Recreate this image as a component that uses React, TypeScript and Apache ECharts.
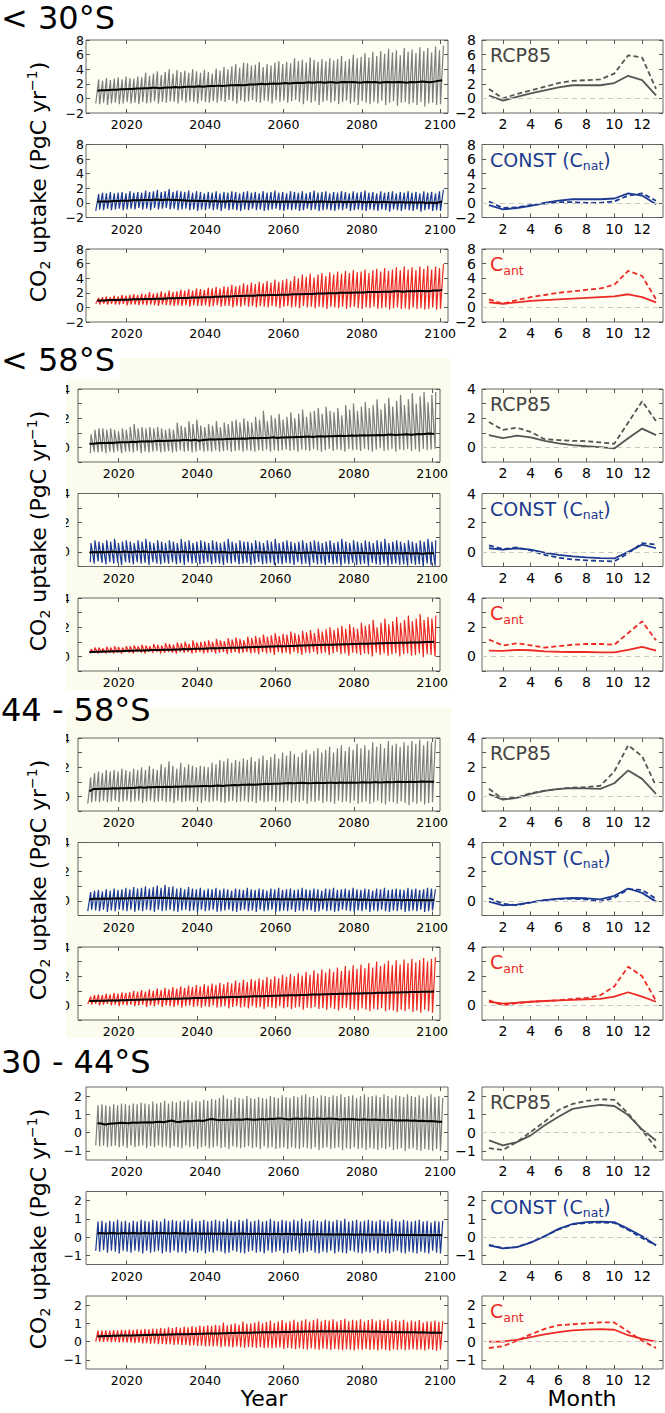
import React, { useEffect, useRef } from "react";
import * as echarts from "echarts";

// ---------------- data ----------------
const FIRST_YEAR = 2012; // annual values below run 2012 ... 2100
const MONTHS = [1, 2, 3, 4, 5, 6, 7, 8, 9, 10, 11, 12, 13];
const YEAR_LABELS = [2020, 2040, 2060, 2080, 2100];
const MONTH_LABELS = [2, 4, 6, 8, 10, 12];
const REGION_TITLES = ["< 30°S", "< 58°S", "44 - 58°S", "30 - 44°S"];

// ---- < 30°S ----
const S30_RCP_HI = [
  2.6,2.4,2.8,2.5,2.7,2.9,2.6,3.0,2.8,2.7,
  3.0,2.9,3.5,3.1,3.4,3.7,3.2,3.6,4.0,3.4,
  3.9,3.6,3.8,3.5,4.0,3.7,3.5,3.9,3.6,3.4,
  4.1,3.8,4.3,4.0,4.4,4.7,4.2,4.9,4.8,4.5,
  4.6,5.0,4.3,4.7,4.5,4.9,5.1,4.7,5.0,4.8,
  5.5,5.1,5.3,4.9,5.6,5.3,5.0,5.4,5.1,5.5,
  5.2,5.4,5.8,5.1,5.4,6.0,5.5,5.7,6.2,5.6,
  6.4,5.8,6.5,6.1,6.8,6.3,6.6,5.9,6.9,6.4,
  6.7,6.2,7.0,6.5,6.9,6.3,7.1,6.6,7.2];
const S30_RCP_LO = [
  -0.7,-0.8,-0.6,-0.9,-0.7,-0.6,-0.8,-0.7,-0.5,-0.7,
  -0.6,-0.8,-0.5,-0.7,-0.6,-0.4,-0.7,-0.5,-0.6,-0.4,
  -0.5,-0.7,-0.3,-0.6,-0.4,-0.5,-0.7,-0.3,-0.5,-0.6,
  -0.4,-0.6,-0.3,-0.5,-0.2,-0.4,-0.7,-0.3,-0.5,-0.4,
  -0.2,-0.5,-0.6,-0.3,-0.4,-0.7,-0.2,-0.5,-0.3,-0.6,
  -0.4,-0.2,-0.5,-0.8,-0.3,-0.6,-0.4,-0.9,-0.5,-0.3,
  -0.6,-0.4,-0.8,-0.5,-0.3,-0.7,-0.5,-0.9,-0.4,-0.6,
  -0.8,-0.5,-0.7,-0.3,-0.9,-0.6,-0.4,-1.0,-0.6,-0.5,
  -0.8,-0.6,-0.9,-0.5,-1.1,-0.7,-0.6,-0.9,-0.8];
const S30_RCP_MEAN = [
  1.05,1.1,1.1,1.15,1.2,1.2,1.25,1.25,1.3,1.3,
  1.35,1.35,1.4,1.4,1.45,1.45,1.4,1.45,1.5,1.5,
  1.55,1.5,1.55,1.6,1.6,1.6,1.65,1.6,1.65,1.7,
  1.7,1.75,1.7,1.75,1.8,1.8,1.85,1.8,1.85,1.9,
  1.9,1.95,2.0,1.95,2.0,2.05,2.0,2.05,2.1,2.05,
  2.1,2.15,2.1,2.15,2.2,2.15,2.2,2.2,2.15,2.2,
  2.2,2.15,2.2,2.25,2.2,2.25,2.2,2.15,2.2,2.25,
  2.2,2.25,2.15,2.2,2.25,2.2,2.2,2.25,2.2,2.15,
  2.25,2.2,2.25,2.3,2.25,2.2,2.3,2.4,2.5];
const S30_CONST_HI = [
  1.2,1.4,1.3,1.5,1.3,1.4,1.5,1.3,1.6,1.4,
  1.5,1.4,1.7,1.5,1.6,1.8,1.5,1.6,1.9,1.5,
  1.7,1.6,1.5,1.7,1.4,1.6,1.5,1.3,1.5,1.4,
  1.6,1.3,1.5,1.4,1.6,1.5,1.3,1.5,1.6,1.4,
  1.5,1.3,1.6,1.4,1.5,1.7,1.4,1.5,1.3,1.6,
  1.5,1.4,1.6,1.3,1.5,1.7,1.4,1.5,1.6,1.3,
  1.5,1.4,1.6,1.5,1.3,1.6,1.4,1.5,1.7,1.4,
  1.5,1.3,1.6,1.4,1.5,1.6,1.3,1.5,1.4,1.6,
  1.4,1.5,1.3,1.6,1.4,1.5,1.3,1.6,1.8];
const S30_CONST_LO = [
  -1.1,-0.9,-1.0,-0.8,-1.0,-0.9,-0.8,-1.0,-0.9,-0.8,
  -0.9,-0.7,-0.9,-0.8,-1.0,-0.7,-0.9,-0.8,-0.7,-0.9,
  -0.8,-1.0,-0.9,-0.8,-1.0,-0.9,-1.1,-0.9,-1.0,-0.8,
  -1.0,-0.9,-1.1,-0.8,-1.0,-0.9,-1.0,-1.1,-0.9,-1.0,
  -0.8,-1.0,-0.9,-1.1,-1.0,-0.9,-0.8,-1.0,-1.1,-0.9,
  -1.0,-0.9,-1.1,-1.0,-0.8,-1.0,-0.9,-1.1,-1.0,-0.9,
  -1.0,-1.1,-0.9,-1.0,-0.8,-1.1,-1.0,-0.9,-1.0,-1.1,
  -0.9,-1.0,-1.1,-0.9,-1.0,-1.2,-0.9,-1.0,-1.1,-0.9,
  -1.0,-1.1,-0.9,-1.2,-1.0,-0.9,-1.1,-1.0,-1.1];
const S30_CONST_MEAN = [
  0.15,0.2,0.2,0.2,0.25,0.25,0.3,0.3,0.3,0.35,
  0.35,0.35,0.4,0.4,0.4,0.45,0.4,0.4,0.45,0.4,
  0.4,0.35,0.35,0.3,0.3,0.3,0.25,0.25,0.25,0.2,
  0.25,0.2,0.2,0.2,0.25,0.2,0.15,0.2,0.2,0.15,
  0.2,0.15,0.2,0.2,0.15,0.2,0.15,0.15,0.2,0.15,
  0.15,0.2,0.15,0.15,0.1,0.15,0.15,0.2,0.15,0.15,
  0.1,0.15,0.15,0.1,0.15,0.1,0.15,0.15,0.1,0.1,
  0.15,0.1,0.1,0.15,0.1,0.1,0.05,0.1,0.1,0.05,
  0.1,0.05,0.05,0.1,0.0,0.05,0.0,0.05,0.2];
const S30_CANT_HI = [
  1.3,1.4,1.5,1.4,1.6,1.5,1.7,1.6,1.7,1.8,
  1.7,1.9,1.8,2.1,1.9,2.0,2.2,2.0,2.3,2.1,
  2.2,2.4,2.3,2.5,2.3,2.6,2.5,2.4,2.7,2.6,
  2.8,2.6,2.9,2.8,3.1,2.9,3.0,3.3,3.1,3.4,
  3.2,3.5,3.3,3.6,3.4,3.8,3.5,3.7,3.9,3.6,
  4.3,4.0,4.5,4.2,4.6,4.1,4.5,4.7,4.3,4.8,
  4.5,4.9,4.6,5.0,4.7,5.1,4.8,4.9,5.2,4.7,
  5.1,5.3,4.9,5.4,5.0,5.2,5.5,5.1,5.6,5.2,
  5.5,5.1,5.6,5.3,5.7,5.2,5.6,5.4,5.9];
const S30_CANT_LO = [
  0.5,0.4,0.5,0.4,0.5,0.4,0.4,0.5,0.3,0.4,
  0.4,0.3,0.4,0.3,0.4,0.3,0.2,0.4,0.3,0.3,
  0.2,0.3,0.2,0.3,0.1,0.3,0.2,0.2,0.3,0.1,
  0.2,0.3,0.1,0.2,0.2,0.0,0.2,0.1,0.3,0.1,
  0.2,0.0,0.2,0.1,0.0,0.2,0.1,-0.1,0.1,0.2,
  0.0,0.1,-0.1,0.2,0.0,0.1,-0.1,0.1,0.0,-0.2,
  0.1,0.0,-0.1,0.1,-0.2,0.0,0.1,-0.1,-0.2,0.0,
  -0.1,0.1,-0.2,-0.1,0.0,-0.3,-0.1,0.0,-0.2,-0.1,
  -0.3,0.0,-0.2,-0.1,-0.3,-0.2,0.0,-0.3,-0.2];
const S30_CANT_MEAN = [
  0.9,0.95,0.95,1.0,1.0,1.0,1.05,1.05,1.05,1.1,
  1.1,1.1,1.15,1.15,1.15,1.2,1.2,1.2,1.25,1.25,
  1.25,1.3,1.3,1.3,1.35,1.35,1.35,1.4,1.4,1.4,
  1.45,1.45,1.5,1.5,1.5,1.55,1.55,1.55,1.6,1.6,
  1.6,1.65,1.65,1.65,1.7,1.7,1.7,1.75,1.75,1.75,
  1.8,1.8,1.8,1.85,1.85,1.85,1.9,1.9,1.9,1.95,
  1.95,1.95,2.0,2.0,2.0,2.0,2.05,2.05,2.05,2.1,
  2.1,2.1,2.1,2.15,2.15,2.15,2.2,2.2,2.15,2.2,
  2.2,2.2,2.25,2.25,2.2,2.25,2.3,2.3,2.4];

// ---- < 58°S ----
const S58_RCP_HI = [
  0.9,1.2,1.3,1.3,1.2,1.3,1.2,1.1,1.3,1.2,
  1.4,1.6,1.3,1.4,1.3,1.4,1.3,1.4,1.3,1.2,
  1.3,1.2,1.7,1.5,1.4,1.8,1.6,1.9,1.5,1.4,
  1.6,1.5,1.8,1.4,1.7,1.6,1.8,1.9,1.7,2.0,
  1.8,1.7,2.1,1.9,2.5,1.8,2.2,2.0,2.3,1.9,
  2.1,2.4,2.0,2.3,2.6,2.1,2.4,2.5,2.7,2.3,
  2.8,2.5,2.4,2.7,2.2,2.9,2.6,3.0,2.5,2.8,
  3.1,2.7,2.9,3.3,2.6,3.0,3.4,2.8,3.2,3.6,
  2.9,3.3,3.7,3.0,3.5,3.8,3.1,3.6,3.8];
const S58_RCP_LO = [
  -0.4,-0.3,-0.35,-0.3,-0.4,-0.3,-0.35,-0.25,-0.4,-0.3,
  -0.3,-0.35,-0.25,-0.4,-0.3,-0.35,-0.3,-0.25,-0.35,-0.3,
  -0.25,-0.35,-0.3,-0.2,-0.3,-0.25,-0.35,-0.3,-0.2,-0.3,
  -0.25,-0.3,-0.2,-0.3,-0.25,-0.2,-0.3,-0.25,-0.2,-0.3,
  -0.2,-0.25,-0.3,-0.2,-0.25,-0.15,-0.3,-0.2,-0.25,-0.2,
  -0.15,-0.25,-0.2,-0.3,-0.15,-0.2,-0.25,-0.1,-0.2,-0.3,
  -0.2,-0.1,-0.25,-0.15,-0.2,-0.3,-0.1,-0.2,-0.15,-0.25,
  -0.1,-0.2,-0.3,-0.15,-0.05,-0.25,-0.2,-0.1,-0.3,-0.15,
  -0.2,-0.1,-0.25,-0.15,-0.3,-0.1,-0.2,-0.15,-0.1];
const S58_RCP_MEAN = [
  0.25,0.25,0.28,0.3,0.3,0.32,0.3,0.33,0.35,0.35,
  0.36,0.38,0.37,0.4,0.4,0.42,0.41,0.43,0.45,0.44,
  0.46,0.45,0.48,0.47,0.5,0.5,0.48,0.52,0.45,0.5,
  0.53,0.55,0.54,0.56,0.55,0.58,0.57,0.6,0.59,0.61,
  0.6,0.62,0.64,0.62,0.65,0.64,0.66,0.7,0.65,0.67,
  0.68,0.7,0.69,0.72,0.71,0.73,0.75,0.72,0.74,0.76,
  0.75,0.77,0.76,0.78,0.8,0.78,0.79,0.81,0.8,0.82,
  0.83,0.81,0.84,0.83,0.85,0.84,0.86,0.88,0.85,0.87,
  0.88,0.9,0.87,0.89,0.91,0.9,0.93,0.95,0.92];
const S58_CONST_HI = [
  0.6,0.8,0.7,0.6,0.8,0.7,0.9,0.6,0.7,0.8,
  0.7,0.6,0.8,0.7,0.9,0.7,0.6,0.8,0.7,0.6,
  0.8,0.7,0.6,0.9,0.7,0.8,0.6,0.7,0.8,0.7,
  0.6,0.8,0.7,0.6,0.7,0.9,0.7,0.6,0.8,0.7,
  0.7,0.6,0.8,0.7,0.6,0.8,0.7,0.9,0.6,0.7,
  0.8,0.7,0.6,0.7,0.8,0.6,0.7,0.8,0.7,0.6,
  0.7,0.8,0.6,0.7,0.9,0.7,0.6,0.8,0.7,0.6,
  0.8,0.7,0.6,0.8,0.7,0.9,0.6,0.7,0.8,0.7,
  0.6,0.8,0.7,0.6,0.8,0.7,0.9,0.7,0.8];
const S58_CONST_LO = [
  -0.7,-0.8,-0.65,-0.75,-0.85,-0.7,-0.8,-0.75,-0.9,-0.7,
  -0.75,-0.85,-0.7,-0.8,-0.75,-0.9,-0.7,-0.8,-0.85,-0.75,
  -0.8,-0.7,-0.85,-0.75,-0.9,-0.7,-0.8,-0.75,-0.85,-0.8,
  -0.7,-0.85,-0.75,-0.8,-0.9,-0.75,-0.8,-0.7,-0.85,-0.8,
  -0.75,-0.9,-0.8,-0.7,-0.85,-0.8,-0.75,-0.9,-0.8,-0.85,
  -0.75,-0.8,-0.9,-0.7,-0.85,-0.8,-0.95,-0.75,-0.85,-0.8,
  -0.9,-0.75,-0.85,-0.8,-0.95,-0.8,-0.85,-0.75,-0.9,-0.85,
  -0.8,-0.95,-0.75,-0.85,-0.9,-0.8,-0.95,-0.85,-0.8,-0.9,
  -0.85,-0.95,-0.8,-0.9,-0.85,-1.0,-0.8,-0.9,-0.95];
const S58_CONST_MEAN = [
  -0.05,0.0,-0.02,0.0,-0.03,0.0,0.02,-0.02,0.0,0.02,
  0.0,-0.02,0.02,0.0,0.03,0.0,-0.02,0.0,0.02,-0.03,
  0.0,0.02,-0.02,0.0,0.02,-0.03,0.0,-0.02,0.0,0.02,
  -0.02,0.0,-0.04,-0.02,0.0,-0.03,-0.05,-0.02,0.0,-0.04,
  -0.02,-0.05,-0.03,0.0,-0.04,-0.02,-0.05,-0.03,-0.06,-0.02,
  -0.04,-0.06,-0.03,-0.05,-0.07,-0.04,-0.06,-0.03,-0.05,-0.07,
  -0.05,-0.08,-0.04,-0.06,-0.08,-0.05,-0.07,-0.09,-0.06,-0.08,
  -0.06,-0.09,-0.07,-0.1,-0.07,-0.09,-0.08,-0.1,-0.07,-0.09,
  -0.1,-0.08,-0.11,-0.09,-0.1,-0.12,-0.09,-0.1,-0.1];
const S58_CANT_HI = [
  0.5,0.6,0.6,0.55,0.65,0.6,0.7,0.65,0.6,0.7,
  0.7,0.75,0.7,0.8,0.75,0.7,0.85,0.8,0.75,0.9,
  0.85,0.8,0.95,0.9,1.0,0.85,1.1,0.95,1.0,1.05,
  1.1,1.0,1.2,1.1,1.05,1.25,1.15,1.3,1.2,1.1,
  1.35,1.25,1.4,1.3,1.5,1.35,1.45,1.6,1.4,1.55,
  1.5,1.7,1.6,1.5,1.75,1.65,1.8,1.6,1.9,1.7,
  1.85,2.0,1.8,1.95,2.1,1.9,2.2,2.0,1.9,2.3,
  2.1,2.2,2.5,2.0,2.3,2.6,2.2,2.4,2.7,2.3,
  2.5,2.8,2.4,2.6,2.9,2.5,2.7,2.6,2.8];
const S58_CANT_LO = [
  0.2,0.25,0.2,0.25,0.2,0.25,0.2,0.25,0.2,0.3,
  0.25,0.2,0.3,0.25,0.2,0.3,0.25,0.3,0.2,0.25,
  0.3,0.25,0.2,0.3,0.25,0.3,0.2,0.25,0.3,0.2,
  0.25,0.3,0.2,0.25,0.3,0.15,0.25,0.3,0.2,0.25,
  0.3,0.2,0.25,0.15,0.3,0.2,0.25,0.1,0.3,0.2,
  0.25,0.15,0.3,0.2,0.1,0.25,0.2,0.3,0.15,0.2,
  0.25,0.1,0.2,0.3,0.15,0.2,0.05,0.25,0.2,0.1,
  0.2,0.15,0.0,0.25,0.1,0.2,0.05,0.15,0.2,0.0,
  0.15,0.2,0.05,0.1,0.2,-0.05,0.15,0.1,0.0];
const S58_CANT_MEAN = [
  0.3,0.3,0.32,0.32,0.33,0.34,0.35,0.35,0.36,0.37,
  0.38,0.38,0.4,0.4,0.41,0.42,0.43,0.44,0.44,0.45,
  0.46,0.46,0.48,0.48,0.5,0.49,0.51,0.52,0.52,0.53,
  0.54,0.55,0.56,0.56,0.57,0.58,0.59,0.6,0.6,0.61,
  0.62,0.63,0.64,0.64,0.66,0.66,0.67,0.68,0.69,0.7,
  0.7,0.72,0.72,0.73,0.74,0.75,0.76,0.76,0.78,0.78,
  0.79,0.8,0.8,0.82,0.82,0.83,0.84,0.85,0.85,0.86,
  0.87,0.87,0.88,0.89,0.9,0.9,0.91,0.92,0.92,0.93,
  0.94,0.94,0.95,0.96,0.96,0.97,0.98,0.98,1.0];

// ---- 44 - 58°S ----
const S4458_RCP_HI = [
  1.3,1.6,1.7,1.6,1.8,1.7,1.8,1.7,1.9,1.8,
  1.7,1.9,1.8,2.0,1.8,2.1,1.9,1.8,2.2,2.0,
  2.4,2.1,1.9,2.3,2.0,2.2,2.1,2.0,2.1,2.05,
  2.0,2.3,2.2,2.5,2.4,2.6,2.3,2.5,2.4,2.6,
  2.5,2.7,2.4,2.6,2.8,2.5,2.7,2.9,2.6,3.0,
  2.8,3.1,2.9,2.7,3.0,3.2,2.9,3.1,3.3,3.0,
  3.2,3.4,3.0,3.3,3.5,3.1,3.4,3.2,3.6,3.3,
  3.5,3.2,3.7,3.4,3.6,3.3,3.8,3.5,3.6,3.4,
  3.7,3.5,3.8,3.6,3.9,3.5,3.8,3.7,3.9];
const S4458_RCP_LO = [
  -0.5,-0.4,-0.35,-0.4,-0.3,-0.4,-0.35,-0.3,-0.4,-0.35,
  -0.3,-0.4,-0.35,-0.3,-0.45,-0.35,-0.3,-0.4,-0.35,-0.3,
  -0.4,-0.35,-0.45,-0.3,-0.4,-0.35,-0.3,-0.4,-0.35,-0.45,
  -0.3,-0.4,-0.35,-0.3,-0.4,-0.45,-0.35,-0.3,-0.4,-0.35,
  -0.3,-0.4,-0.35,-0.45,-0.3,-0.4,-0.35,-0.3,-0.4,-0.35,
  -0.4,-0.3,-0.45,-0.35,-0.4,-0.3,-0.5,-0.35,-0.4,-0.3,
  -0.45,-0.35,-0.4,-0.5,-0.3,-0.4,-0.35,-0.45,-0.3,-0.5,
  -0.4,-0.35,-0.5,-0.4,-0.3,-0.45,-0.55,-0.35,-0.4,-0.5,
  -0.35,-0.45,-0.6,-0.4,-0.5,-0.35,-0.55,-0.45,-0.4];
const S4458_RCP_MEAN = [
  0.35,0.5,0.5,0.52,0.52,0.53,0.55,0.54,0.56,0.55,
  0.57,0.58,0.6,0.62,0.6,0.63,0.62,0.64,0.65,0.64,
  0.66,0.65,0.67,0.66,0.68,0.7,0.68,0.7,0.69,0.71,
  0.72,0.7,0.73,0.74,0.72,0.75,0.76,0.78,0.77,0.8,
  0.79,0.81,0.8,0.82,0.84,0.86,0.85,0.87,0.86,0.88,
  0.9,0.92,0.9,0.91,0.93,0.92,0.9,0.91,0.93,0.92,
  0.91,0.93,0.94,0.92,0.95,0.93,0.94,0.96,0.94,0.95,
  0.97,0.95,0.96,0.98,0.96,0.97,0.99,0.97,0.98,1.0,
  0.98,0.99,1.01,0.99,1.0,1.02,1.0,1.01,1.0];
const S4458_CONST_HI = [
  0.6,0.7,0.75,0.65,0.8,0.7,0.85,0.75,0.8,0.9,
  0.8,0.95,0.85,0.9,1.0,0.85,0.95,1.05,0.9,1.1,
  0.95,1.0,0.85,0.9,0.8,0.95,0.85,0.8,0.9,0.75,
  0.85,0.8,0.9,0.75,0.85,0.8,0.7,0.85,0.8,0.75,
  0.9,0.8,0.75,0.85,0.8,0.7,0.85,0.8,0.9,0.75,
  0.8,0.85,0.75,0.8,0.9,0.8,0.75,0.85,0.8,0.7,
  0.85,0.8,0.9,0.75,0.8,0.85,0.75,0.9,0.8,0.75,
  0.85,0.8,0.7,0.85,0.8,0.9,0.75,0.8,0.85,0.8,
  0.75,0.9,0.8,0.85,0.75,0.8,0.9,0.85,0.8];
const S4458_CONST_LO = [
  -0.7,-0.6,-0.65,-0.7,-0.6,-0.75,-0.65,-0.7,-0.6,-0.65,
  -0.7,-0.6,-0.75,-0.65,-0.7,-0.6,-0.65,-0.75,-0.6,-0.7,
  -0.65,-0.6,-0.7,-0.75,-0.65,-0.6,-0.7,-0.65,-0.75,-0.6,
  -0.7,-0.65,-0.6,-0.75,-0.7,-0.65,-0.6,-0.7,-0.75,-0.65,
  -0.6,-0.7,-0.65,-0.75,-0.6,-0.7,-0.65,-0.6,-0.75,-0.7,
  -0.65,-0.7,-0.6,-0.75,-0.65,-0.7,-0.6,-0.65,-0.75,-0.7,
  -0.6,-0.7,-0.65,-0.75,-0.7,-0.6,-0.65,-0.7,-0.75,-0.65,
  -0.7,-0.6,-0.75,-0.65,-0.7,-0.6,-0.7,-0.75,-0.65,-0.7,
  -0.6,-0.75,-0.7,-0.65,-0.7,-0.6,-0.75,-0.7,-0.65];
const S4458_CONST_MEAN = [
  0.1,0.15,0.15,0.14,0.16,0.15,0.17,0.16,0.18,0.17,
  0.18,0.19,0.18,0.2,0.19,0.21,0.2,0.22,0.2,0.21,
  0.2,0.19,0.18,0.17,0.18,0.16,0.17,0.15,0.16,0.15,
  0.14,0.15,0.13,0.14,0.13,0.12,0.14,0.12,0.13,0.11,
  0.13,0.12,0.11,0.13,0.12,0.1,0.12,0.11,0.13,0.1,
  0.11,0.12,0.1,0.11,0.13,0.1,0.09,0.11,0.1,0.08,
  0.1,0.09,0.11,0.08,0.09,0.1,0.08,0.1,0.09,0.07,
  0.09,0.08,0.06,0.08,0.07,0.09,0.06,0.07,0.08,0.06,
  0.05,0.07,0.06,0.05,0.04,0.06,0.05,0.04,0.06];
const S4458_CANT_HI = [
  0.6,0.7,0.75,0.7,0.8,0.75,0.85,0.8,0.9,0.85,
  0.9,1.0,0.95,1.05,0.95,1.1,1.0,1.15,1.05,1.2,
  1.1,1.25,1.15,1.3,1.2,1.35,1.25,1.4,1.3,1.45,
  1.35,1.5,1.4,1.55,1.45,1.6,1.5,1.7,1.55,1.75,
  1.6,1.8,1.7,1.85,1.75,1.95,1.8,2.0,1.85,2.1,
  1.95,2.15,2.0,2.2,2.05,2.3,2.1,2.4,2.2,2.45,
  2.25,2.5,2.3,2.6,2.35,2.7,2.4,2.75,2.5,2.8,
  2.55,2.9,2.6,3.0,2.7,2.85,3.05,2.75,3.1,2.8,
  3.15,2.9,3.2,2.95,3.1,3.25,3.0,3.2,3.3];
const S4458_CANT_LO = [
  0.1,0.05,0.1,0.0,0.05,0.1,0.0,0.05,-0.05,0.05,
  0.0,0.05,-0.05,0.0,0.05,-0.1,0.0,-0.05,0.05,-0.1,
  0.0,-0.05,-0.1,0.0,-0.15,-0.05,0.0,-0.1,-0.05,-0.15,
  -0.05,-0.1,0.0,-0.15,-0.1,-0.05,-0.2,-0.1,-0.05,-0.15,
  -0.1,-0.2,-0.05,-0.15,-0.1,-0.25,-0.1,-0.15,-0.2,-0.05,
  -0.2,-0.1,-0.25,-0.15,-0.1,-0.3,-0.15,-0.2,-0.1,-0.25,
  -0.2,-0.3,-0.15,-0.25,-0.35,-0.2,-0.15,-0.3,-0.25,-0.35,
  -0.2,-0.3,-0.4,-0.25,-0.3,-0.2,-0.4,-0.3,-0.35,-0.45,
  -0.3,-0.4,-0.25,-0.45,-0.35,-0.5,-0.3,-0.4,-0.5];
const S4458_CANT_MEAN = [
  0.3,0.3,0.31,0.32,0.32,0.33,0.34,0.34,0.35,0.36,
  0.37,0.37,0.38,0.39,0.4,0.4,0.41,0.42,0.43,0.43,
  0.44,0.45,0.46,0.46,0.47,0.48,0.49,0.5,0.5,0.51,
  0.52,0.53,0.54,0.54,0.55,0.56,0.57,0.58,0.58,0.59,
  0.6,0.61,0.62,0.62,0.63,0.64,0.65,0.66,0.66,0.67,
  0.68,0.69,0.7,0.7,0.71,0.72,0.73,0.74,0.74,0.75,
  0.76,0.77,0.78,0.78,0.79,0.8,0.8,0.81,0.82,0.82,
  0.83,0.84,0.84,0.85,0.86,0.86,0.87,0.88,0.88,0.89,
  0.9,0.9,0.91,0.92,0.92,0.93,0.94,0.94,0.95];

// ---- 30 - 44°S ----
const S3044_RCP_HI = [
  1.5,1.55,1.5,1.45,1.55,1.5,1.6,1.55,1.5,1.6,
  1.55,1.65,1.6,1.55,1.7,1.6,1.65,1.75,1.6,1.7,
  1.65,1.75,1.7,1.8,1.65,1.75,1.7,1.8,1.75,1.85,
  1.8,1.9,2.05,1.85,1.8,1.95,1.9,1.85,2.0,1.9,
  1.85,1.95,1.9,1.85,2.0,1.95,1.9,2.05,1.95,1.9,
  2.0,1.95,2.05,2.1,1.95,2.0,1.9,2.05,2.0,1.95,
  2.05,2.0,2.1,1.95,2.0,2.05,1.9,2.0,2.1,1.95,
  2.0,2.05,1.95,2.1,2.0,1.9,2.05,2.0,1.95,2.1,
  2.0,1.95,2.05,1.9,2.0,2.1,1.95,2.0,1.9];
const S3044_RCP_LO = [
  -0.7,-0.75,-0.7,-0.8,-0.75,-0.7,-0.8,-0.75,-0.85,-0.7,
  -0.8,-0.75,-0.7,-0.85,-0.75,-0.8,-0.7,-0.8,-0.75,-0.85,
  -0.75,-0.8,-0.85,-0.7,-0.8,-0.75,-0.9,-0.8,-0.75,-0.85,
  -0.8,-0.75,-0.85,-0.8,-0.9,-0.75,-0.8,-0.85,-0.8,-0.75,
  -0.85,-0.8,-0.9,-0.75,-0.85,-0.8,-0.9,-0.85,-0.8,-0.9,
  -0.8,-0.85,-0.9,-0.8,-0.85,-0.9,-0.8,-0.95,-0.85,-0.8,
  -0.9,-0.85,-0.8,-0.95,-0.85,-0.9,-0.8,-0.9,-0.85,-0.95,
  -0.85,-0.9,-0.95,-0.85,-0.9,-0.8,-0.95,-0.9,-0.85,-1.0,
  -0.9,-0.85,-0.95,-1.0,-0.9,-0.95,-1.0,-0.9,-1.0];
const S3044_RCP_MEAN = [
  0.52,0.5,0.44,0.48,0.5,0.52,0.54,0.53,0.52,0.55,
  0.54,0.56,0.55,0.57,0.56,0.58,0.6,0.57,0.62,0.66,
  0.6,0.58,0.62,0.64,0.63,0.65,0.66,0.64,0.7,0.75,
  0.72,0.68,0.7,0.69,0.71,0.7,0.72,0.7,0.74,0.72,
  0.7,0.72,0.74,0.72,0.76,0.75,0.77,0.78,0.74,0.72,
  0.76,0.78,0.75,0.77,0.76,0.74,0.77,0.76,0.75,0.78,
  0.76,0.74,0.72,0.75,0.73,0.74,0.72,0.7,0.73,0.71,
  0.7,0.72,0.69,0.7,0.68,0.7,0.67,0.68,0.66,0.68,
  0.65,0.66,0.64,0.65,0.63,0.64,0.62,0.6,0.6];
const S3044_CONST_HI = [
  0.85,0.9,0.8,0.9,0.85,0.95,0.85,0.9,0.8,0.9,
  0.85,0.95,0.9,0.85,0.95,0.9,0.85,1.0,0.9,0.95,
  0.9,0.85,0.95,0.9,1.0,0.85,0.9,0.95,0.85,0.9,
  0.95,0.9,0.85,1.0,0.9,0.85,0.95,0.9,1.0,0.85,
  0.9,0.95,0.85,0.9,1.0,0.9,0.85,0.95,0.9,0.85,
  0.95,0.9,1.0,0.85,0.9,0.95,0.9,0.85,0.95,0.9,
  0.85,0.95,0.9,1.0,0.85,0.9,0.95,0.85,0.9,0.95,
  0.9,0.85,0.95,0.9,0.85,1.0,0.9,0.85,0.95,0.9,
  0.85,0.9,0.95,0.85,0.9,0.8,0.9,0.85,0.9];
const S3044_CONST_LO = [
  -0.75,-0.8,-0.7,-0.85,-0.75,-0.8,-0.9,-0.75,-0.8,-0.85,
  -0.75,-0.8,-0.9,-0.75,-0.85,-0.8,-0.75,-0.9,-0.8,-0.85,
  -0.75,-0.85,-0.8,-0.9,-0.75,-0.8,-0.85,-0.75,-0.9,-0.8,
  -0.85,-0.75,-0.8,-0.9,-0.85,-0.75,-0.8,-0.85,-0.9,-0.8,
  -0.75,-0.85,-0.8,-0.9,-0.75,-0.85,-0.8,-0.75,-0.9,-0.85,
  -0.8,-0.75,-0.9,-0.85,-0.8,-0.75,-0.85,-0.9,-0.8,-0.85,
  -0.75,-0.9,-0.8,-0.85,-0.9,-0.75,-0.8,-0.85,-0.9,-0.8,
  -0.85,-0.75,-0.9,-0.8,-0.85,-0.9,-0.8,-0.75,-0.85,-0.9,
  -0.8,-0.85,-0.9,-0.8,-0.85,-0.9,-0.75,-0.85,-0.9];
const S3044_CONST_MEAN = [
  0.2,0.22,0.2,0.21,0.22,0.2,0.21,0.23,0.2,0.22,
  0.21,0.2,0.22,0.21,0.2,0.23,0.21,0.22,0.2,0.21,
  0.22,0.2,0.21,0.19,0.2,0.21,0.19,0.2,0.18,0.2,
  0.19,0.18,0.2,0.19,0.17,0.19,0.18,0.2,0.18,0.17,
  0.18,0.19,0.17,0.18,0.16,0.18,0.17,0.16,0.18,0.17,
  0.16,0.17,0.15,0.17,0.16,0.15,0.17,0.16,0.15,0.16,
  0.15,0.14,0.16,0.15,0.14,0.15,0.13,0.15,0.14,0.13,
  0.14,0.13,0.15,0.13,0.12,0.14,0.13,0.12,0.13,0.12,
  0.11,0.13,0.12,0.11,0.12,0.1,0.12,0.11,0.1];
const S3044_CANT_HI = [
  0.6,0.6,0.62,0.6,0.63,0.62,0.65,0.63,0.66,0.65,
  0.68,0.66,0.7,0.68,0.72,0.7,0.75,0.72,0.78,0.74,
  0.8,0.76,0.82,0.78,0.85,0.8,0.88,0.84,0.9,0.86,
  0.92,0.88,1.05,0.9,0.95,1.0,0.92,1.1,0.98,1.0,
  1.05,1.12,1.0,1.08,1.15,1.02,1.1,1.18,1.05,1.12,
  1.2,1.08,1.15,1.22,1.1,1.18,1.25,1.12,1.2,1.15,
  1.22,1.1,1.18,1.25,1.12,1.2,1.15,1.22,1.1,1.18,
  1.24,1.12,1.2,1.15,1.25,1.1,1.18,1.12,1.2,1.08,
  1.15,1.1,1.18,1.05,1.12,1.1,1.15,1.08,1.12];
const S3044_CANT_LO = [
  0.0,0.0,-0.02,0.0,-0.03,-0.02,-0.05,-0.03,-0.06,-0.05,
  -0.08,-0.06,-0.1,-0.08,-0.12,-0.1,-0.14,-0.12,-0.16,-0.14,
  -0.18,-0.16,-0.2,-0.18,-0.22,-0.2,-0.24,-0.22,-0.26,-0.24,
  -0.27,-0.25,-0.3,-0.26,-0.28,-0.32,-0.27,-0.3,-0.34,-0.29,
  -0.32,-0.35,-0.3,-0.36,-0.33,-0.38,-0.34,-0.32,-0.4,-0.35,
  -0.38,-0.42,-0.36,-0.4,-0.44,-0.38,-0.41,-0.45,-0.39,-0.42,
  -0.46,-0.4,-0.43,-0.47,-0.41,-0.44,-0.48,-0.42,-0.45,-0.4,
  -0.46,-0.43,-0.48,-0.41,-0.45,-0.5,-0.43,-0.46,-0.42,-0.47,
  -0.44,-0.41,-0.46,-0.43,-0.48,-0.42,-0.45,-0.5,-0.44];
const S3044_CANT_MEAN = [
  0.3,0.3,0.31,0.31,0.32,0.32,0.33,0.33,0.34,0.34,
  0.35,0.35,0.36,0.36,0.37,0.37,0.38,0.38,0.39,0.39,
  0.4,0.4,0.41,0.41,0.42,0.42,0.43,0.43,0.44,0.44,
  0.45,0.45,0.46,0.46,0.47,0.47,0.48,0.48,0.49,0.49,
  0.5,0.5,0.52,0.51,0.52,0.53,0.52,0.53,0.54,0.53,
  0.54,0.55,0.54,0.55,0.56,0.55,0.56,0.57,0.56,0.57,
  0.56,0.57,0.56,0.57,0.56,0.55,0.56,0.55,0.56,0.55,
  0.54,0.55,0.54,0.53,0.54,0.53,0.52,0.53,0.52,0.51,
  0.52,0.51,0.5,0.51,0.5,0.49,0.5,0.49,0.48];

// ---- monthly climatologies (solid = early decade, dashed = late decade), months 1..13 ----
const S30_RCP_EARLY = [0.4, -0.3, 0.2, 0.7, 1.1, 1.5, 1.8, 1.8, 1.8, 2.1, 3.1, 2.5, 0.4];
const S30_RCP_LATE = [1.3, 0.0, 0.6, 1.1, 1.6, 2.1, 2.4, 2.5, 2.6, 3.4, 5.9, 5.6, 1.3];
const S30_CONST_EARLY = [-0.3, -0.9, -0.7, -0.4, 0.0, 0.3, 0.5, 0.5, 0.5, 0.6, 1.3, 1.0, -0.2];
const S30_CONST_LATE = [0.2, -0.7, -0.6, -0.3, -0.1, 0.1, 0.1, 0.0, 0.0, 0.2, 1.0, 1.3, 0.3];
const S30_CANT_EARLY = [0.7, 0.5, 0.7, 0.9, 1.0, 1.1, 1.2, 1.3, 1.4, 1.5, 1.8, 1.4, 0.7];
const S30_CANT_LATE = [1.1, 0.5, 1.0, 1.4, 1.7, 2.0, 2.2, 2.4, 2.6, 3.1, 5.0, 4.3, 1.1];
const S58_RCP_EARLY = [0.84, 0.63, 0.8, 0.68, 0.45, 0.27, 0.15, 0.08, 0.02, -0.07, 0.63, 1.29, 0.84];
const S58_RCP_LATE = [1.74, 1.2, 1.35, 1.06, 0.56, 0.5, 0.45, 0.43, 0.34, 0.25, 1.7, 3.16, 1.8];
const S58_CONST_EARLY = [0.25, 0.15, 0.25, 0.15, -0.05, -0.2, -0.3, -0.38, -0.42, -0.45, 0.0, 0.5, 0.25];
const S58_CONST_LATE = [0.45, 0.2, 0.3, 0.1, -0.2, -0.4, -0.52, -0.58, -0.62, -0.65, -0.1, 0.6, 0.5];
const S58_CANT_EARLY = [0.4, 0.38, 0.45, 0.42, 0.35, 0.32, 0.3, 0.3, 0.28, 0.27, 0.45, 0.65, 0.4];
const S58_CANT_LATE = [1.15, 0.75, 0.9, 0.75, 0.6, 0.7, 0.8, 0.85, 0.85, 0.8, 1.6, 2.4, 1.1];
const S4458_RCP_EARLY = [0.15, -0.22, -0.1, 0.18, 0.38, 0.52, 0.57, 0.55, 0.52, 0.9, 1.78, 1.2, 0.18];
const S4458_RCP_LATE = [0.52, -0.18, -0.07, 0.22, 0.4, 0.5, 0.6, 0.64, 0.73, 1.7, 3.5, 2.75, 0.7];
const S4458_CONST_EARLY = [-0.05, -0.3, -0.25, -0.1, 0.05, 0.15, 0.2, 0.18, 0.1, 0.35, 0.85, 0.55, -0.05];
const S4458_CONST_LATE = [0.2, -0.2, -0.3, -0.1, 0.05, 0.12, 0.15, 0.1, -0.05, 0.2, 0.8, 0.75, 0.15];
const S4458_CANT_EARLY = [0.25, 0.12, 0.18, 0.25, 0.3, 0.35, 0.38, 0.42, 0.45, 0.6, 0.9, 0.6, 0.25];
const S4458_CANT_LATE = [0.35, 0.0, 0.15, 0.25, 0.3, 0.35, 0.45, 0.5, 0.7, 1.3, 2.65, 2.0, 0.3];
const S3044_RCP_EARLY = [-0.43, -0.7, -0.52, -0.15, 0.4, 0.87, 1.3, 1.42, 1.52, 1.46, 0.96, 0.17, -0.43];
const S3044_RCP_LATE = [-0.85, -0.95, -0.52, 0.04, 0.6, 1.24, 1.57, 1.74, 1.83, 1.8, 1.05, 0.13, -0.85];
const S3044_CONST_EARLY = [-0.45, -0.62, -0.55, -0.3, 0.05, 0.45, 0.72, 0.82, 0.85, 0.82, 0.45, 0.05, -0.45];
const S3044_CONST_LATE = [-0.42, -0.6, -0.55, -0.28, 0.05, 0.42, 0.7, 0.78, 0.8, 0.78, 0.4, -0.05, -0.45];
const S3044_CANT_EARLY = [0.0, 0.0, 0.1, 0.25, 0.4, 0.52, 0.62, 0.66, 0.68, 0.65, 0.35, 0.15, 0.0];
const S3044_CANT_LATE = [-0.35, -0.25, 0.05, 0.4, 0.7, 0.9, 0.95, 1.0, 1.05, 1.05, 0.55, 0.05, -0.35];

// ---------------- assembly ----------------
const PANELS = [
  [
    { run: "RCP85", hi: S30_RCP_HI, lo: S30_RCP_LO, mean: S30_RCP_MEAN, early: S30_RCP_EARLY, late: S30_RCP_LATE },
    { run: "CONST", hi: S30_CONST_HI, lo: S30_CONST_LO, mean: S30_CONST_MEAN, early: S30_CONST_EARLY, late: S30_CONST_LATE },
    { run: "Cant", hi: S30_CANT_HI, lo: S30_CANT_LO, mean: S30_CANT_MEAN, early: S30_CANT_EARLY, late: S30_CANT_LATE },
  ],
  [
    { run: "RCP85", hi: S58_RCP_HI, lo: S58_RCP_LO, mean: S58_RCP_MEAN, early: S58_RCP_EARLY, late: S58_RCP_LATE },
    { run: "CONST", hi: S58_CONST_HI, lo: S58_CONST_LO, mean: S58_CONST_MEAN, early: S58_CONST_EARLY, late: S58_CONST_LATE },
    { run: "Cant", hi: S58_CANT_HI, lo: S58_CANT_LO, mean: S58_CANT_MEAN, early: S58_CANT_EARLY, late: S58_CANT_LATE },
  ],
  [
    { run: "RCP85", hi: S4458_RCP_HI, lo: S4458_RCP_LO, mean: S4458_RCP_MEAN, early: S4458_RCP_EARLY, late: S4458_RCP_LATE },
    { run: "CONST", hi: S4458_CONST_HI, lo: S4458_CONST_LO, mean: S4458_CONST_MEAN, early: S4458_CONST_EARLY, late: S4458_CONST_LATE },
    { run: "Cant", hi: S4458_CANT_HI, lo: S4458_CANT_LO, mean: S4458_CANT_MEAN, early: S4458_CANT_EARLY, late: S4458_CANT_LATE },
  ],
  [
    { run: "RCP85", hi: S3044_RCP_HI, lo: S3044_RCP_LO, mean: S3044_RCP_MEAN, early: S3044_RCP_EARLY, late: S3044_RCP_LATE },
    { run: "CONST", hi: S3044_CONST_HI, lo: S3044_CONST_LO, mean: S3044_CONST_MEAN, early: S3044_CONST_EARLY, late: S3044_CONST_LATE },
    { run: "Cant", hi: S3044_CANT_HI, lo: S3044_CANT_LO, mean: S3044_CANT_MEAN, early: S3044_CANT_EARLY, late: S3044_CANT_LATE },
  ],
];

// layout / style
const FONT = '"DejaVu Sans", "Liberation Sans", sans-serif';
const PANEL_BG = "#fefef3";
const BORDER = "#666666";
const ROW_OFF = [0, 104.5, 209];
const PANEL_H = 73;
const LEFT_W = 362;
const RIGHT_X = 482;
const RIGHT_W = 181;
const SECTIONS = [
  { top: 40, leftX: 86, titleY: 17.5, yMin: -2, yMax: 8, yLabels: [-2, 0, 2, 4, 6, 8], yTicks: [-2, 0, 2, 4, 6, 8], tLo: 1 / 12, tHi: 10 / 12, cream: null, titleBox: false, leftLabelMargin: 2, clipLabels: false },
  { top: 389, leftX: 78, titleY: 359.5, yMin: -1, yMax: 4, yLabels: [0, 2, 4], yTicks: [-1, 0, 1, 2, 3, 4], tLo: 9 / 12, tHi: 11 / 12, cream: { y: 358, h: 332 }, titleBox: true, leftLabelMargin: 8, clipLabels: true },
  { top: 738, leftX: 78, titleY: 710, yMin: -1, yMax: 4, yLabels: [0, 2, 4], yTicks: [-1, 0, 1, 2, 3, 4], tLo: 1 / 12, tHi: 10 / 12, cream: { y: 708, h: 330 }, titleBox: false, leftLabelMargin: 8, clipLabels: true },
  { top: 1087, leftX: 86, titleY: 1061.5, yMin: -1.5, yMax: 2.5, yLabels: [-1, 0, 1, 2], yTicks: [-1, 0, 1, 2], tLo: 1 / 12, tHi: 8 / 12, cream: null, titleBox: false, leftLabelMargin: 4, clipLabels: false },
];
const RUN_STYLE: Record<string, { spike: string; line: string; text: string }> = {
  RCP85: { spike: "#7d7d7d", line: "#555555", text: "#444444" },
  CONST: { spike: "#1c3a92", line: "#1c3a92", text: "#1c3a92" },
  Cant: { spike: "#ec2a25", line: "#ec2a25", text: "#ec2a25" },
};

const fmtNum = (v: number) => (v < 0 ? "\u2212" + Math.abs(v) : String(v));

let measureCtx: CanvasRenderingContext2D | null = null;
function tw(text: string, size: number) {
  if (!measureCtx) measureCtx = document.createElement("canvas").getContext("2d");
  if (!measureCtx) return text.length * size * 0.6;
  measureCtx.font = `${size}px "DejaVu Sans"`;
  return measureCtx.measureText(text).width;
}

type Piece = { t: string; s: number; dy?: number };
function pieceTexts(pieces: Piece[], color: string, startX: number) {
  let cx = startX;
  const out: any[] = [];
  for (const p of pieces) {
    out.push({
      type: "text",
      x: cx,
      y: p.dy || 0,
      style: { text: p.t, fontSize: p.s, fontFamily: FONT, fill: color, align: "left", verticalAlign: "middle" },
    });
    cx += tw(p.t, p.s);
  }
  return { items: out, width: cx - startX };
}

function spikePoints(hi: number[], lo: number[], tLo: number, tHi: number) {
  const pts: number[][] = [];
  const n = Math.min(hi.length, lo.length);
  for (let i = 0; i < n; i++) {
    const yr = FIRST_YEAR + i;
    if (tLo < tHi) {
      pts.push([yr + tLo, lo[i]], [yr + tHi, hi[i]]);
    } else {
      pts.push([yr + tHi, hi[i]], [yr + tLo, lo[i]]);
    }
  }
  return pts;
}

function buildOption() {
  const grid: any[] = [];
  const xAxis: any[] = [];
  const yAxis: any[] = [];
  const series: any[] = [];
  const elements: any[] = [];

  const tickStyle = { inside: true, length: 4, lineStyle: { color: "#555", width: 1 } };
  const noLine = { show: false, onZero: false };

  function addAxes(gridIndex: number, x: any, y: any) {
    const xi = xAxis.length;
    xAxis.push({
      gridIndex, type: "value", min: x.min, max: x.max, position: "bottom",
      axisLine: noLine, splitLine: { show: false },
      axisTick: { ...tickStyle, customValues: x.ticks },
      axisLabel: { customValues: x.labels, fontSize: x.fontSize, fontFamily: FONT, color: "#000", margin: x.margin, formatter: (v: number) => fmtNum(v) },
    });
    xAxis.push({
      gridIndex, type: "value", min: x.min, max: x.max, position: "top",
      axisLine: noLine, splitLine: { show: false },
      axisTick: { ...tickStyle, customValues: x.ticks }, axisLabel: { show: false },
    });
    const yi = yAxis.length;
    yAxis.push({
      gridIndex, type: "value", min: y.min, max: y.max, position: "left",
      axisLine: noLine, splitLine: { show: false },
      axisTick: { ...tickStyle, customValues: y.ticks },
      axisLabel: { customValues: y.labels, fontSize: y.fontSize, fontFamily: FONT, color: "#000", margin: y.margin, formatter: (v: number) => fmtNum(v) },
    });
    yAxis.push({
      gridIndex, type: "value", min: y.min, max: y.max, position: "right",
      axisLine: noLine, splitLine: { show: false },
      axisTick: { ...tickStyle, customValues: y.ticks }, axisLabel: { show: false },
    });
    return [xi, yi];
  }

  SECTIONS.forEach((sec, si) => {
    // cream backdrop of the pasted sub-figures
    if (sec.cream) {
      elements.push({ type: "rect", z: -10, silent: true, shape: { x: 66, y: sec.cream.y, width: 385, height: sec.cream.h }, style: { fill: "#fcfcee" } });
    }
    if (sec.titleBox) {
      elements.push({ type: "rect", z: -5, silent: true, shape: { x: 0, y: sec.titleY - 18, width: 120, height: 38 }, style: { fill: "#ffffff" } });
    }
    // region title
    elements.push({ type: "text", z: 60, x: 1, y: sec.titleY, style: { text: REGION_TITLES[si], fontSize: 32, fontFamily: FONT, fill: "#000", align: "left", verticalAlign: "middle" } });

    PANELS[si].forEach((p, ri) => {
      const top = sec.top + ROW_OFF[ri];
      const st = RUN_STYLE[p.run];
      // ---- left: time series ----
      const gL = grid.length;
      grid.push({ left: sec.leftX, top, width: LEFT_W, height: PANEL_H, show: true, backgroundColor: PANEL_BG, borderColor: BORDER, borderWidth: 1, containLabel: false });
      const [xl, yl] = addAxes(gL,
        { min: 2009.6, max: 2102, ticks: YEAR_LABELS, labels: YEAR_LABELS, fontSize: 12.5, margin: 5 },
        { min: sec.yMin, max: sec.yMax, ticks: sec.yTicks, labels: sec.yLabels, fontSize: 12.5, margin: sec.leftLabelMargin });
      series.push({
        type: "line", xAxisIndex: xl, yAxisIndex: yl, data: spikePoints(p.hi, p.lo, sec.tLo, sec.tHi),
        symbol: "none", silent: true, clip: true, z: 3, lineStyle: { color: st.spike, width: 1.2 },
      });
      series.push({
        type: "line", xAxisIndex: xl, yAxisIndex: yl, data: p.mean.map((v, i) => [FIRST_YEAR + i + 0.5, v]),
        symbol: "none", silent: true, clip: true, z: 4, lineStyle: { color: "#000", width: 2 },
      });
      if (sec.clipLabels) {
        elements.push({ type: "rect", z: 50, silent: true, shape: { x: 50, y: top - 8, width: 16, height: PANEL_H + 16 }, style: { fill: "#ffffff" } });
      }
      // ---- right: monthly climatology ----
      const gR = grid.length;
      grid.push({ left: RIGHT_X, top, width: RIGHT_W, height: PANEL_H, show: true, backgroundColor: PANEL_BG, borderColor: BORDER, borderWidth: 1, containLabel: false });
      const [xr, yr] = addAxes(gR,
        { min: 0.5, max: 13.5, ticks: MONTH_LABELS, labels: MONTH_LABELS, fontSize: 14, margin: 4 },
        { min: sec.yMin, max: sec.yMax, ticks: sec.yTicks, labels: sec.yLabels, fontSize: 14, margin: 6 });
      series.push({
        type: "line", xAxisIndex: xr, yAxisIndex: yr, data: MONTHS.map((m, i) => [m, p.early[i]]),
        symbol: "none", silent: true, z: 4, lineStyle: { color: st.line, width: 1.8 },
        markLine: { silent: true, symbol: "none", label: { show: false }, lineStyle: { color: "#c9c9c9", type: [5, 4], width: 1 }, data: [{ yAxis: 0 }] },
      });
      series.push({
        type: "line", xAxisIndex: xr, yAxisIndex: yr, data: MONTHS.map((m, i) => [m, p.late[i]]),
        symbol: "none", silent: true, z: 4, lineStyle: { color: st.line, width: 1.8, type: [5, 3] },
      });
      // run label
      let pieces: Piece[];
      if (p.run === "RCP85") pieces = [{ t: "RCP85", s: 19 }];
      else if (p.run === "CONST") pieces = [{ t: "CONST (C", s: 19 }, { t: "nat", s: 12.5, dy: 6 }, { t: ")", s: 19 }];
      else pieces = [{ t: "C", s: 19 }, { t: "ant", s: 12.5, dy: 6 }];
      const pt = pieceTexts(pieces, st.text, 0);
      elements.push({ type: "group", x: 490, y: top + 15, z: 60, children: pt.items });
    });

    // y-axis title for the section
    const yt = pieceTexts([
      { t: "CO", s: 22 }, { t: "2", s: 14, dy: 7 }, { t: " uptake (PgC yr", s: 22 }, { t: "\u22121", s: 14, dy: -6 }, { t: ")", s: 22 },
    ], "#000", 0);
    const half = yt.width / 2;
    yt.items.forEach((it) => (it.x -= half));
    elements.push({ type: "group", x: 38, y: sec.top + 142, rotation: Math.PI / 2, z: 60, children: yt.items });
  });

  elements.push({ type: "text", z: 60, x: 264, y: 1398, style: { text: "Year", fontSize: 22, fontFamily: FONT, fill: "#000", align: "center", verticalAlign: "middle" } });
  elements.push({ type: "text", z: 60, x: 582, y: 1398, style: { text: "Month", fontSize: 22, fontFamily: FONT, fill: "#000", align: "center", verticalAlign: "middle" } });

  return {
    animation: false,
    backgroundColor: "#ffffff",
    grid, xAxis, yAxis, series,
    graphic: { elements },
  };
}

export default function App() {
  const ref = useRef<HTMLDivElement>(null);
  useEffect(() => {
    document.body.style.margin = "0";
    if (!ref.current) return;
    const chart = echarts.init(ref.current, null, { renderer: "svg" });
    chart.setOption(buildOption() as any);
    return () => chart.dispose();
  }, []);
  return <div ref={ref} style={{ width: 665, height: 1413 }} />;
}
